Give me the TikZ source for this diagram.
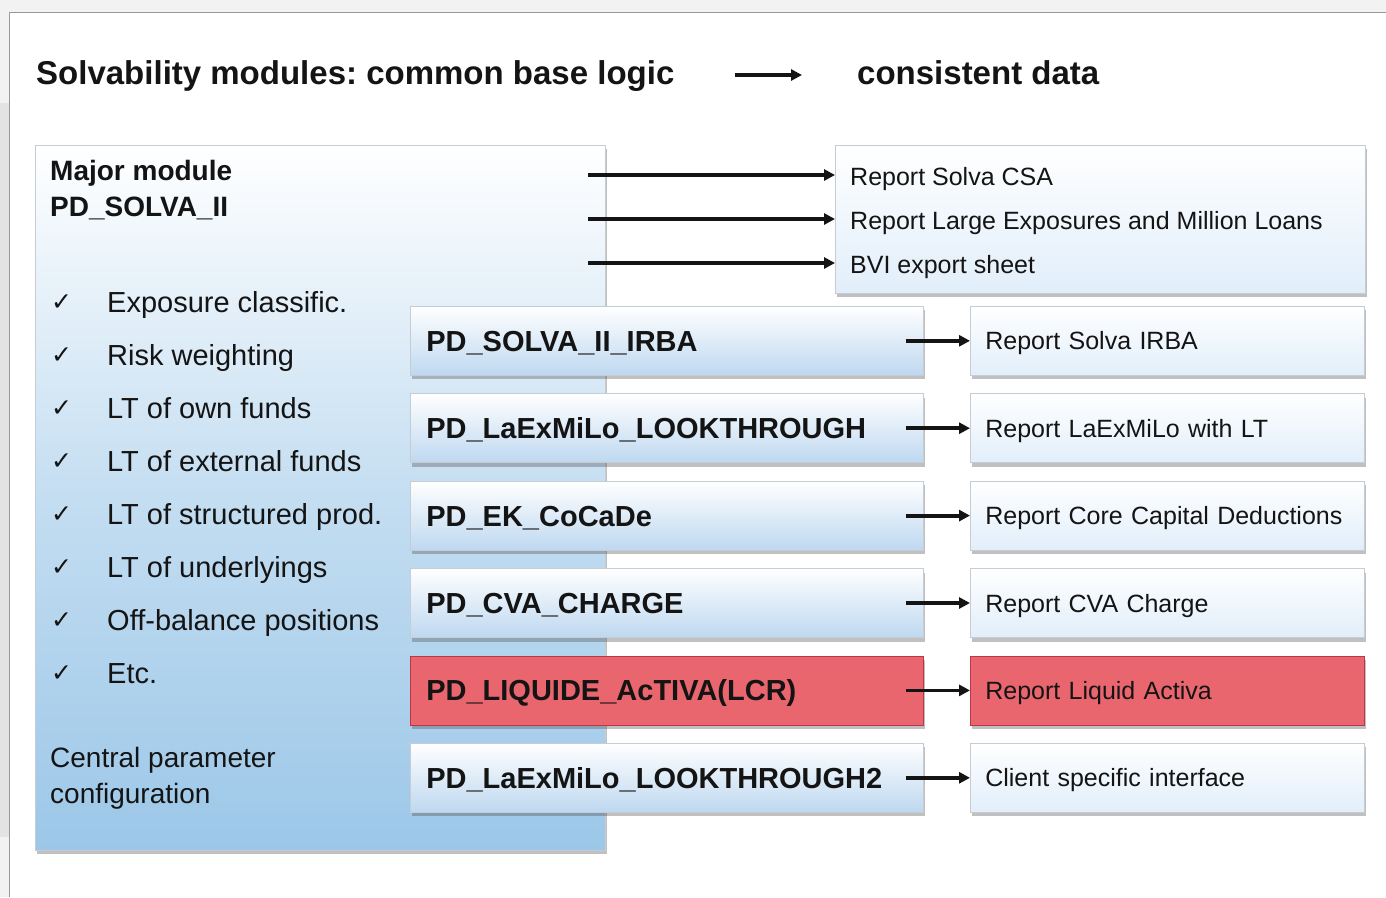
\documentclass[tikz,border=0pt]{standalone}
\usepackage{fontspec}
\setmainfont{Liberation Sans}
\newfontfamily\symfont{DejaVu Sans}
\usetikzlibrary{shadows,arrows.meta}
\definecolor{txt}{HTML}{141414}
\definecolor{bigblue}{RGB}{156,199,232}
\definecolor{modblue}{RGB}{190,216,240}
\definecolor{repblue}{RGB}{225,238,250}
\definecolor{redfill}{RGB}{233,102,111}
\definecolor{redline}{RGB}{185,55,70}
\definecolor{boxline}{RGB}{198,204,212}
\frenchspacing
\tikzset{
  sh/.style={drop shadow={shadow xshift=2pt,shadow yshift=-4pt,opacity=0.35,fill=black!70}},
  arr/.style={line width=3.8pt,draw=black!92,-{Triangle[length=11pt,width=11pt]}},
  bigbox/.style={draw=boxline,line width=0.6pt,top color=white,bottom color=bigblue,
    middle color=bigblue!60,
    minimum width=570pt,minimum height=705pt,anchor=north west,inner sep=0pt,sh},
  boxbase/.style={line width=0.6pt,anchor=north west,minimum height=69pt,inner ysep=0pt,
    align=left,text=txt,sh},
  modbox/.style={boxbase,text width=481pt,inner xsep=16pt,
    font=\fontsize{29}{34}\selectfont\bfseries,text height=21pt,text depth=0pt},
  repbox/.style={boxbase,text width=364pt,inner xsep=15pt,
    font=\fontsize{25}{30}\selectfont,text height=18pt,text depth=0pt},
  bluefill/.style={draw=boxline,top color=white,bottom color=modblue},
  lightfill/.style={draw=boxline,top color=white,bottom color=repblue},
  redbox/.style={draw=redline,fill=redfill},
  lefttxt/.style={anchor=base west,text=txt,inner sep=0pt,font=\fontsize{29}{34}\selectfont},
  chk/.style={anchor=base west,text=txt,inner sep=0pt,font=\symfont\fontsize{25}{28}\selectfont},
  reptxt/.style={anchor=base west,text=txt,inner sep=0pt,font=\fontsize{25}{30}\selectfont},
  titletxt/.style={anchor=base west,text=txt,inner sep=0pt,font=\fontsize{33}{38}\selectfont\bfseries}
}
\begin{document}
\begin{tikzpicture}[x=1pt,y=-1pt]
\useasboundingbox (0,0) rectangle (1386,897);
% page background and frame
\fill[black!5] (0,0) rectangle (1386,897);
\fill[black!11] (0,103) rectangle (9,837);
\fill[white] (9,12) rectangle (1386,897);
\draw[black!40,line width=1pt] (9,897) -- (9,12) -- (1386,12);

% title
\node[titletxt] (title) at (36,84) {Solvability modules: common base logic};
\node[titletxt] (cdata) at (857,84) {consistent data};
\coordinate (ta) at (735,75);
\coordinate (tb) at (802,75);
\draw[arr] (ta) -- (tb);

% big module box
\node[bigbox] (big) at (35,145) {};
\node[lefttxt,font=\fontsize{28}{33}\selectfont\bfseries] (mm) at (50,180) {Major module};
\node[lefttxt,font=\fontsize{28}{33}\selectfont\bfseries] (ps) at (50,216) {PD\_SOLVA\_II};
\foreach \t [count=\i] in {Exposure classific.,Risk weighting,LT of own funds,LT of external funds,LT of structured prod.,LT of underlyings,Off-balance positions,Etc.}{
  \node[chk] (c\i) at (51,{312+53*(\i-1)-2}) {✓};
  \node[lefttxt] (l\i) at (107,{312+53*(\i-1)}) {\t};
}
\node[lefttxt,font=\fontsize{28}{33}\selectfont] (cp1) at (50,767) {Central parameter};
\node[lefttxt,font=\fontsize{28}{33}\selectfont] (cp2) at (50,803) {configuration};

% top report box
\node[boxbase,lightfill,minimum width=530pt,minimum height=148pt,inner sep=0pt] (top) at (835,145) {};
\node[reptxt] (t1) at (850,185) {Report Solva CSA};
\node[reptxt] (t2) at (850,229) {Report Large Exposures and Million Loans};
\node[reptxt] (t3) at (850,273) {BVI export sheet};
\coordinate (a1) at (588,175);
\coordinate (a2) at (588,219);
\coordinate (a3) at (588,263);
\draw[arr] (a1) -- (a1 -| top.west);
\draw[arr] (a2) -- (a2 -| top.west);
\draw[arr] (a3) -- (a3 -| top.west);

% module boxes and reports
\node[modbox,bluefill] (m1) at (410,306) {PD\_SOLVA\_II\_IRBA};
\node[modbox,bluefill] (m2) at (410,393.4) {PD\_LaExMiLo\_LOOKTHROUGH};
\node[modbox,bluefill] (m3) at (410,480.8) {PD\_EK\_CoCaDe};
\node[modbox,bluefill] (m4) at (410,568.2) {PD\_CVA\_CHARGE};
\node[modbox,redbox]   (m5) at (410,655.6) {PD\_LIQUIDE\_AcTIVA(LCR)};
\node[modbox,bluefill] (m6) at (410,743) {PD\_LaExMiLo\_LOOKTHROUGH2};

\node[repbox,lightfill] (r1) at (970,306) {Report Solva IRBA};
\node[repbox,lightfill] (r2) at (970,393.4) {Report LaExMiLo with LT};
\node[repbox,lightfill] (r3) at (970,480.8) {Report Core Capital Deductions};
\node[repbox,lightfill] (r4) at (970,568.2) {Report CVA Charge};
\node[repbox,redbox]   (r5) at (970,655.6) {Report Liquid Activa};
\node[repbox,lightfill] (r6) at (970,743) {Client specific interface};

\foreach \i in {1,...,6}{
  \draw[arr] ([xshift=-18pt]m\i.east) -- (r\i.west);
}
\end{tikzpicture}
\end{document}
